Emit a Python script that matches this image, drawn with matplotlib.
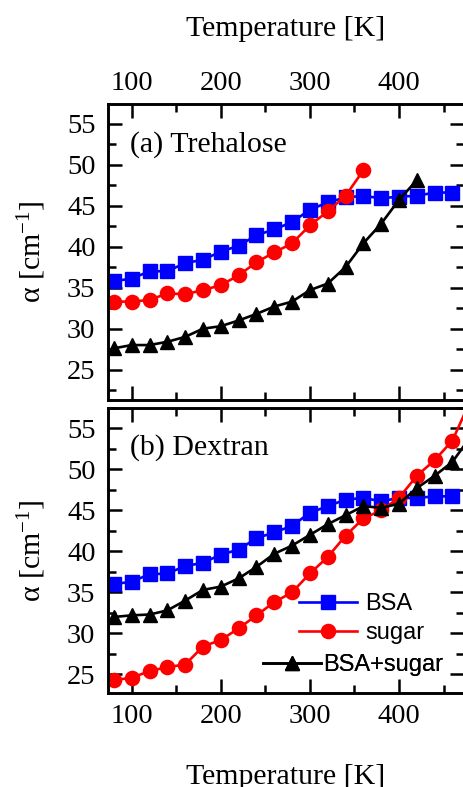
import matplotlib
matplotlib.use("Agg")
import matplotlib.pyplot as plt
from matplotlib.ticker import MultipleLocator

# ---------------- data ----------------
temp = [80, 100, 120, 140, 160, 180, 200, 220, 240, 260, 280, 300, 320, 340,
        360, 380, 400, 420, 440, 460, 480]

# (a) Trehalose
bsa_a = [35.8, 36.1, 37.0, 37.0, 38.0, 38.4, 39.4, 40.1, 41.4, 42.1, 43.0,
         44.5, 45.4, 46.0, 46.2, 45.9, 46.1, 46.2, 46.6, 46.6]
sugar_a = [33.3, 33.3, 33.5, 34.3, 34.2, 34.7, 35.3, 36.5, 38.1, 39.3, 40.4,
           42.6, 44.3, 46.2, 49.3]
mix_a = [27.6, 28.0, 28.0, 28.4, 29.0, 30.0, 30.3, 31.0, 31.8, 32.7, 33.3,
         34.7, 35.5, 37.5, 40.4, 42.8, 45.7, 48.1]

# (b) Dextran
bsa_b = [36.0, 36.3, 37.2, 37.3, 38.2, 38.6, 39.6, 40.2, 41.6, 42.3, 43.1,
         44.7, 45.5, 46.3, 46.5, 46.1, 46.5, 46.5, 46.7, 46.7]
sugar_b = [24.3, 24.6, 25.4, 25.9, 26.2, 28.4, 29.2, 30.6, 32.2, 33.8, 35.0,
           37.3, 39.3, 41.9, 44.0, 45.0, 46.5, 49.2, 51.1, 53.5, 58.3]
mix_b = [32.0, 32.2, 32.3, 32.8, 34.0, 35.3, 35.7, 36.7, 38.1, 39.7, 40.7,
         42.0, 43.3, 44.4, 45.5, 45.3, 45.8, 47.7, 49.2, 50.9, 53.9]

series_labels = ["BSA", "sugar", "BSA+sugar"]
panel_titles = ["(a) Trehalose", "(b) Dextran"]
xlabel = "Temperature [K]"
ylabel = "α [cm$^{-1}$]"
xticks = [100, 200, 300, 400]
yticks = [25, 30, 35, 40, 45, 50, 55]

# ---------------- style ----------------
plt.rcParams["font.family"] = ["Liberation Serif", "DejaVu Serif"]
plt.rcParams["mathtext.fontset"] = "custom"
plt.rcParams["mathtext.rm"] = "Liberation Serif"
plt.rcParams["mathtext.it"] = "Liberation Serif:italic"
plt.rcParams["axes.linewidth"] = 2.1

W, H = 463, 787
fig = plt.figure(figsize=(W / 100, H / 100), dpi=100)

left_px, right_px = 108, 464
ax_a = fig.add_axes([left_px / W, 1 - 400 / H, (right_px - left_px) / W, (400 - 104) / H])
ax_b = fig.add_axes([left_px / W, 1 - 693.3 / H, (right_px - left_px) / W, (693.3 - 407.7) / H])

styles = [dict(color="#0000ff", marker="s", ms=9.6),
          dict(color="#ff0000", marker="o", ms=10.2),
          dict(color="#000000", marker="^", ms=10.5)]

def draw(ax, datasets):
    handles = []
    for d, st in zip(datasets, styles):
        h, = ax.plot(temp[:len(d)], d, color=st["color"], marker=st["marker"],
                     ms=st["ms"], lw=1.9, mec=st["color"], mfc=st["color"])
        handles.append(h)
    return handles

draw(ax_a, [bsa_a, sugar_a, mix_a])
hb = draw(ax_b, [bsa_b, sugar_b, mix_b])

ax_a.set_ylim(21.3, 57.4)
ax_b.set_ylim(22.7, 57.5)

for ax in (ax_a, ax_b):
    ax.set_xlim(73.4, 473.0)
    ax.set_xticks(xticks)
    ax.set_yticks(yticks)
    ax.xaxis.set_minor_locator(MultipleLocator(50))
    ax.yaxis.set_minor_locator(MultipleLocator(2.5))
    ax.tick_params(which="both", direction="in", top=True, right=True,
                   width=1.8, labelsize=20.5)
    ax.tick_params(which="major", length=10)
    ax.tick_params(which="minor", length=6)
    ax.tick_params(axis="y", pad=9)
    ax.set_ylabel(ylabel, fontsize=21.5, labelpad=14)

ax_a.tick_params(axis="x", labeltop=True, labelbottom=False, pad=6)
ax_a.xaxis.set_label_position("top")
ax_a.set_xlabel(xlabel, fontsize=21.5, labelpad=25)
ax_b.tick_params(axis="x", labeltop=False, labelbottom=True, pad=8)
ax_b.set_xlabel(xlabel, fontsize=21.5, labelpad=25)

ax_a.text(0.062, 0.839, panel_titles[0], transform=ax_a.transAxes,
          fontsize=21.5, va="baseline", ha="left")
ax_b.text(0.062, 0.834, panel_titles[1], transform=ax_b.transAxes,
          fontsize=21.5, va="baseline", ha="left")

# legend: one entry per row, placed individually
leg_pos = [(0.5365, 0.3127, 0.35), (0.5365, 0.211, 0.35), (0.4354, 0.099, 0.1)]
for h, lab, (lx, ly, tp) in zip(hb, series_labels, leg_pos):
    lg = ax_b.legend([h], [lab], loc="center left", bbox_to_anchor=(lx, ly),
                     frameon=False, borderpad=0, borderaxespad=0,
                     handlelength=2.45, handletextpad=tp,
                     prop=dict(family="Liberation Sans", size=17))
    ax_b.add_artist(lg)

fig.savefig("out.png", dpi=100)
